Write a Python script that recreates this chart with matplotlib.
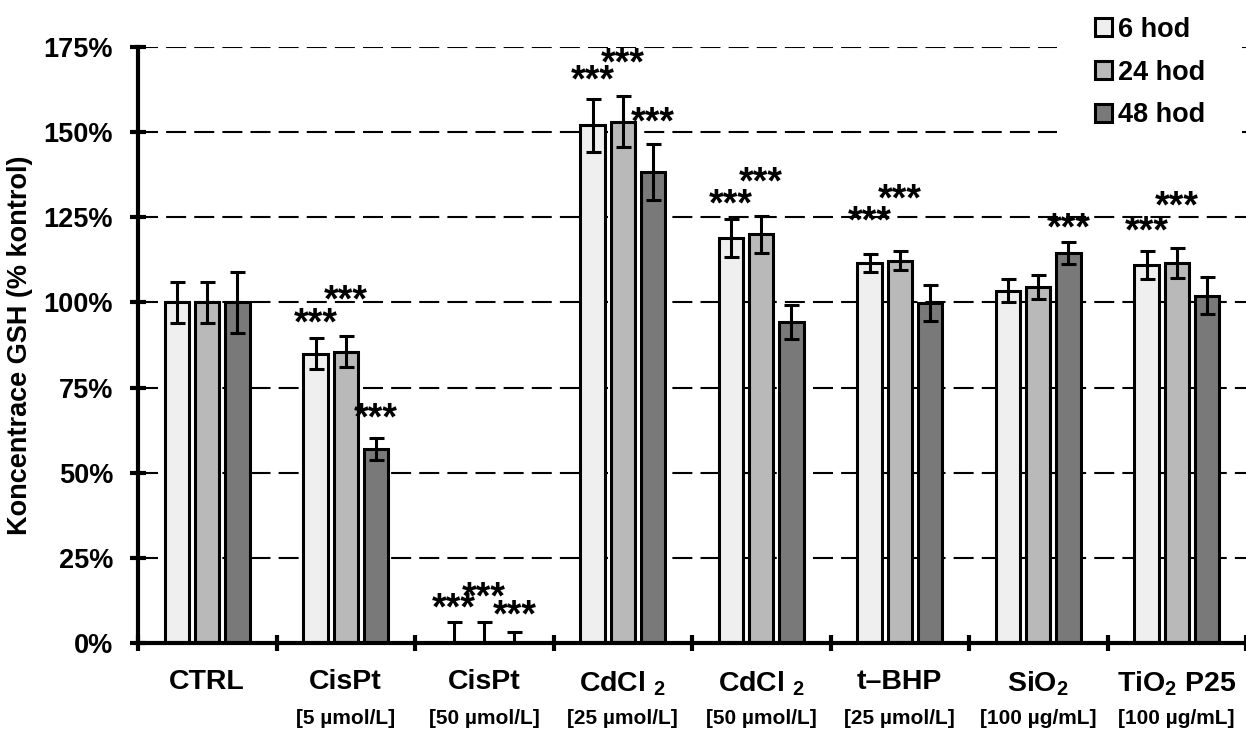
import matplotlib
matplotlib.use('Agg')
import matplotlib.pyplot as plt
import matplotlib.transforms as mtrans
from matplotlib.patches import Patch, Rectangle
import numpy as np

plt.rcParams['font.family'] = ['Liberation Sans', 'DejaVu Sans']
plt.rcParams['mathtext.fontset'] = 'custom'
plt.rcParams['mathtext.rm'] = 'Liberation Sans:bold'
plt.rcParams['mathtext.it'] = 'Liberation Sans:bold'
plt.rcParams['mathtext.bf'] = 'Liberation Sans:bold'

# ---- data ----
categories = ['CTRL', 'CisPt', 'CisPt', 'CdCl $_2$', 'CdCl $_2$', 't–BHP', 'SiO$_2$', 'TiO$_2$ P25']
concentrations = ['', '[5 µmol/L]', '[50 µmol/L]', '[25 µmol/L]', '[50 µmol/L]',
                  '[25 µmol/L]', '[100 µg/mL]', '[100 µg/mL]']
series_names = ['6 hod', '24 hod', '48 hod']

vals_6h = [100, 85, 0, 152, 119, 111.5, 103.5, 111]
vals_24h = [100, 85.5, 0, 153, 120, 112.3, 104.5, 111.5]
vals_48h = [100, 57, 0, 138.3, 94.3, 99.8, 114.5, 102]

err_6h = [6, 4.5, 6.2, 7.7, 5.6, 2.6, 3.4, 4.0]
err_24h = [6, 4.5, 6.2, 7.5, 5.5, 2.7, 3.5, 4.4]
err_48h = [9, 3.3, 3.2, 8.3, 5.0, 5.3, 3.3, 5.5]

# height (in %) of the significance marks "***" (None = no mark)
stars_6h = [None, 95.4, 11.7, 166.5, 130.3, 125.1, None, 122.4]
stars_24h = [None, 101.9, 14.7, 171.5, 136.8, 131.8, None, 129.5]
stars_48h = [None, 67.5, 9.4, 154.4, None, None, 123.3, None]

yticks = [0, 25, 50, 75, 100, 125, 150, 175]
ytick_labels = ['0%', '25%', '50%', '75%', '100%', '125%', '150%', '175%']

# ---- style ----
colors = ['#efefef', '#b9b9b9', '#797979']
W, H = 1246, 729
fig = plt.figure(figsize=(W / 100, H / 100), dpi=100)
ax = fig.add_axes([138 / W, 86 / H, 1 - 138 / W, 596 / H])

x = np.arange(len(categories))
pitch = 0.218
width = 0.175
all_vals = [vals_6h, vals_24h, vals_48h]
all_errs = [err_6h, err_24h, err_48h]
all_stars = [stars_6h, stars_24h, stars_48h]

for i in range(3):
    xs = x + (i - 1) * pitch
    ax.bar(xs, all_vals[i], width, color=colors[i], edgecolor='black',
           linewidth=2.2, zorder=3)
    ax.errorbar(xs, all_vals[i], yerr=all_errs[i], fmt='none', ecolor='black',
                elinewidth=2.2, capsize=5.4, capthick=2.2, zorder=4)
    for j, s in enumerate(all_stars[i]):
        if s is None:
            continue
        ax.annotate('***', xy=(xs[j], s), xytext=(0, -11.5), textcoords='offset points',
                    ha='center', va='baseline', fontsize=27, fontweight='bold', zorder=5)

ax.set_xlim(-0.5, -0.5 + (W - 138) / 139.0)
ax.set_ylim(0, 175)
ax.set_yticks(yticks)
ax.set_yticklabels(ytick_labels)

ax.set_axisbelow(True)
ax.yaxis.grid(True, color='black', linewidth=1.5, linestyle=(0, (9.6, 3.9)))

for sp in ['top', 'right']:
    ax.spines[sp].set_visible(False)
for sp in ['left', 'bottom']:
    ax.spines[sp].set_linewidth(3)
    ax.spines[sp].set_zorder(6)

ax.tick_params(axis='y', direction='inout', length=12, width=3, pad=12,
               labelsize=19.5)
for lab in ax.get_yticklabels():
    lab.set_fontweight('bold')

ax.set_xticks(x)
ax.set_xticklabels(categories, fontsize=20.5, fontweight='bold')
ax.tick_params(axis='x', which='major', length=0, pad=19)
ax.set_xticks(np.arange(-0.5, len(categories) - 0.4, 1.0), minor=True)
ax.tick_params(axis='x', which='minor', direction='inout', length=11, width=3)

trans = mtrans.blended_transform_factory(ax.transData, ax.transAxes)
for j, c in enumerate(concentrations):
    ax.text(x[j], -0.126, c, transform=trans, ha='center', va='center',
            fontsize=15, fontweight='bold')

ax.set_ylabel('Koncentrace GSH (% kontrol)', fontsize=19.5, fontweight='bold')
ax.yaxis.set_label_coords(-0.0948, 0.5)

# white area behind the legend (hides gridlines, as in the original)
ax.add_patch(Rectangle((1057 / W, 1 - 140 / H), (1242 - 1057) / W, 140 / H,
                       transform=fig.transFigure, facecolor='white',
                       edgecolor='none', zorder=2, clip_on=False))

handles = [Patch(facecolor=c, edgecolor='black', linewidth=2.2) for c in colors]
leg = fig.legend(handles, series_names, loc='upper left',
                 bbox_to_anchor=(1088 / W, 1 - 10 / H),
                 frameon=True, facecolor='white', edgecolor='none', framealpha=1,
                 prop=dict(family='Liberation Sans', weight='bold', size=19.5),
                 handlelength=0.65, handleheight=0.65, handletextpad=0.2,
                 labelspacing=0.62, borderpad=0.25, borderaxespad=0, fancybox=False)
leg.set_zorder(10)

fig.savefig('out.png', dpi=100, facecolor='white')
